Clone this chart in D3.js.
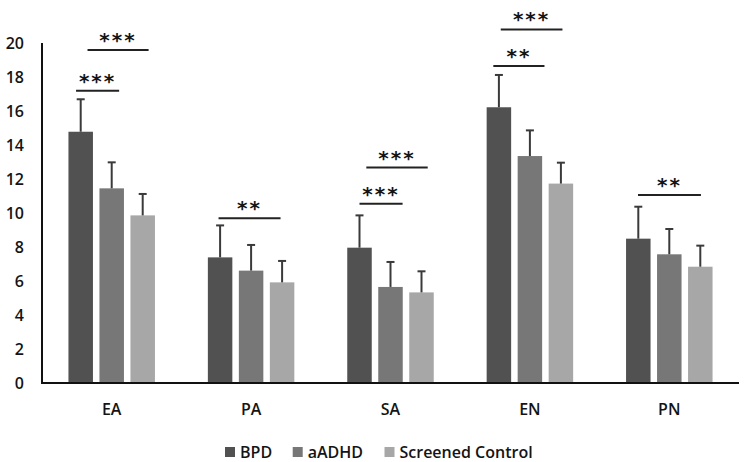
<!DOCTYPE html>
<html>
<head>
<meta charset="utf-8">
<script src="https://cdn.jsdelivr.net/npm/d3@7"></script>
<style>
  html, body { margin: 0; padding: 0; background: #fff; }
  svg { display: block; }
  text { font-family: "Open Sans", Lato, sans-serif; fill: #141414; font-weight: 600; }
</style>
</head>
<body>
<svg id="chart" width="744" height="462"></svg>
<script>
// ---- data ----
const categories = ["EA", "PA", "SA", "EN", "PN"];
const seriesNames = ["BPD", "aADHD", "Screened Control"];
const bpdMeans     = [14.78, 7.39, 7.96, 16.22, 8.49];
const bpdSD        = [1.91, 1.88, 1.90, 1.90, 1.88];
const adhdMeans    = [11.45, 6.61, 5.65, 13.35, 7.57];
const adhdSD       = [1.53, 1.51, 1.47, 1.51, 1.49];
const controlMeans = [9.86, 5.92, 5.33, 11.73, 6.84];
const controlSD    = [1.26, 1.26, 1.24, 1.23, 1.24];
const yTicks = [0, 2, 4, 6, 8, 10, 12, 14, 16, 18, 20];
// significance brackets: category, start/end (in bar-slot units from group centre), level, label
const sigCategory = ["EA", "EA", "PA", "SA", "SA", "EN", "EN", "PN"];
const sigStart    = [-1.15, -0.78, -1.05, -1.0, -0.78, -1.18, -0.94, -1.01];
const sigEnd      = [0.24, 1.19, 0.95, 0.39, 1.2, 0.47, 1.05, 1.02];
const sigLevel    = [17.19, 19.59, 9.69, 10.55, 12.67, 18.65, 20.8, 11.06];
const sigLabel    = ["***", "***", "**", "***", "***", "**", "***", "**"];

const colors = ["#515151", "#777777", "#a7a7a7"];
const means = [bpdMeans, adhdMeans, controlMeans];
const sds = [bpdSD, adhdSD, controlSD];

const svg = d3.select("#chart");
const x0 = d3.scaleBand().domain(categories).range([42, 739]).padding(0);
const slot = 31;
const x1 = d3.scaleBand().domain(seriesNames)
  .range([-slot * 1.395, slot * 1.395]).paddingInner(0.21).paddingOuter(0);
const y = d3.scaleLinear().domain([0, 20]).range([383, 43]);

// y axis labels
svg.append("g").selectAll("text").data(yTicks).join("text")
  .attr("x", 24).attr("y", d => y(d)).attr("dy", "0.36em")
  .attr("text-anchor", "end").style("font-size", "16px")
  .text(d => d);

// bars
const groups = svg.append("g").selectAll("g").data(categories).join("g")
  .attr("transform", d => `translate(${x0(d) + x0.bandwidth() / 2},0)`);

seriesNames.forEach((s, si) => {
  groups.append("rect")
    .attr("x", x1(s)).attr("width", x1.bandwidth())
    .attr("y", (d, i) => y(means[si][i]))
    .attr("height", (d, i) => y(0) - y(means[si][i]))
    .attr("fill", colors[si]);
  // error bars
  groups.append("line")
    .attr("x1", x1(s) + x1.bandwidth() / 2).attr("x2", x1(s) + x1.bandwidth() / 2)
    .attr("y1", (d, i) => y(means[si][i]))
    .attr("y2", (d, i) => y(means[si][i] + sds[si][i]))
    .attr("stroke", "#3a3a3a").attr("stroke-width", 2);
  groups.append("line")
    .attr("x1", x1(s) + x1.bandwidth() / 2 - 4).attr("x2", x1(s) + x1.bandwidth() / 2 + 4)
    .attr("y1", (d, i) => y(means[si][i] + sds[si][i]))
    .attr("y2", (d, i) => y(means[si][i] + sds[si][i]))
    .attr("stroke", "#3a3a3a").attr("stroke-width", 2);
});

// axes lines
svg.append("line").attr("x1", 42).attr("x2", 42).attr("y1", y(20)).attr("y2", y(0) + 1)
  .attr("stroke", "#111").attr("stroke-width", 2);
svg.append("line").attr("x1", 41).attr("x2", 739).attr("y1", y(0)).attr("y2", y(0))
  .attr("stroke", "#111").attr("stroke-width", 2);

// category labels
svg.append("g").selectAll("text").data(categories).join("text")
  .attr("x", d => x0(d) + x0.bandwidth() / 2).attr("y", 409).attr("dy", "0.36em")
  .attr("text-anchor", "middle").style("font-size", "16px")
  .text(d => d);

// significance brackets
const sig = sigCategory.map((c, i) => ({
  cx: x0(c) + x0.bandwidth() / 2,
  a: sigStart[i], b: sigEnd[i], v: sigLevel[i], t: sigLabel[i]
}));
const sg = svg.append("g");
sg.selectAll("line").data(sig).join("line")
  .attr("x1", d => d.cx + d.a * slot).attr("x2", d => d.cx + d.b * slot)
  .attr("y1", d => y(d.v)).attr("y2", d => y(d.v))
  .attr("stroke", "#222").attr("stroke-width", 2);
sg.selectAll("text").data(sig).join("text")
  .attr("x", d => d.cx + (d.a + d.b) / 2 * slot)
  .attr("y", d => y(d.v) - 3)
  .attr("text-anchor", "middle")
  .style("font-family", "'DejaVu Sans', sans-serif")
  .style("font-size", "20px").style("font-weight", "bold")
  .style("letter-spacing", "2px")
  .text(d => d.t);

// legend
const legX = [225, 292.7, 384.5];
const leg = svg.append("g").selectAll("g").data(seriesNames).join("g")
  .attr("transform", (d, i) => `translate(${legX[i]},452)`);
leg.append("rect").attr("x", 0).attr("y", -5).attr("width", 10).attr("height", 10)
  .attr("fill", (d, i) => colors[i]);
leg.append("text").attr("x", 15).attr("y", 0).attr("dy", "0.36em")
  .style("font-size", "16px").text(d => d);
</script>
</body>
</html>
